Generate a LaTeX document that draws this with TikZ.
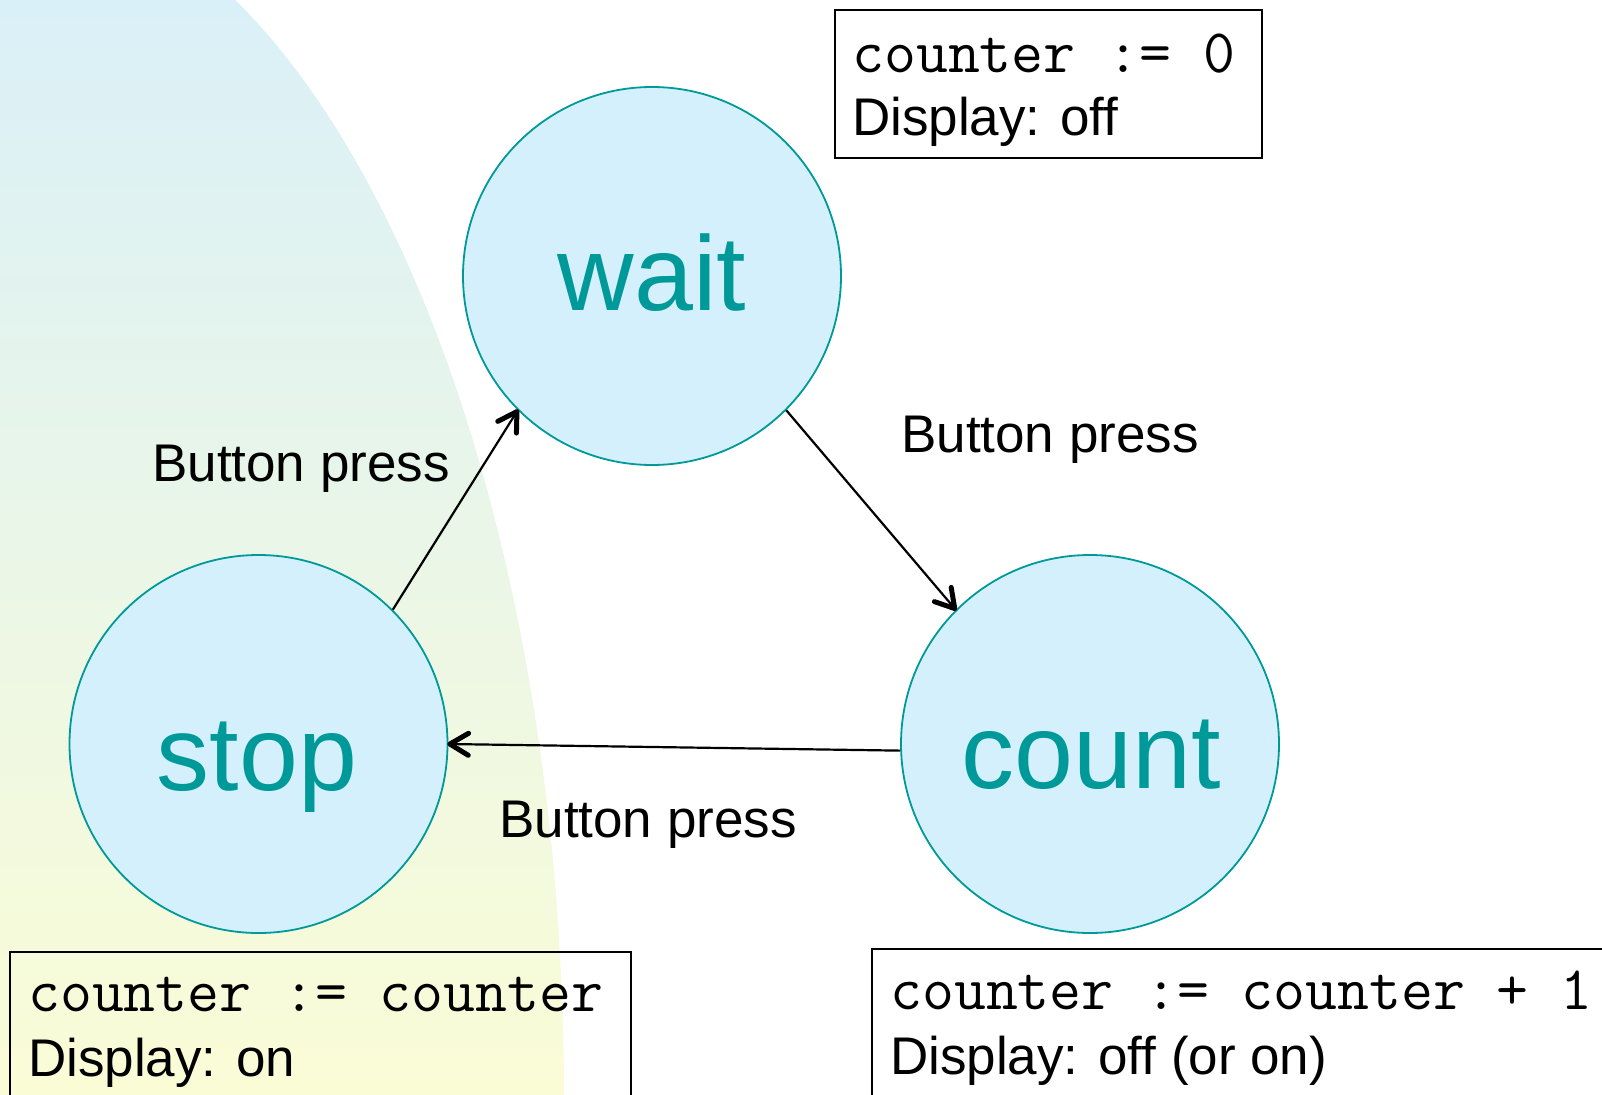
\documentclass[tikz,border=0pt]{standalone}
\usepackage{fontspec}
\setmainfont{Liberation Sans}
\usetikzlibrary{decorations.markings}
\definecolor{statefill}{HTML}{D5F0FD}
\definecolor{stateteal}{HTML}{009999}
\definecolor{bgtop}{HTML}{DAF0F8}
\definecolor{bgbottom}{HTML}{FAFCD6}
\begin{document}
\begin{tikzpicture}[x=1pt,y=-1pt,
  state/.style={circle, draw=stateteal, fill=statefill, line width=1.8pt,
    minimum size=378pt, inner sep=0pt},
  statename/.style={anchor=base, text=stateteal, inner sep=0pt,
    font=\fontsize{106}{106}\selectfont},
  % connector with a bold open barb at its end
  trans/.style={line width=2.2pt,
    postaction={decorate, decoration={markings, mark=at position 1 with
      {\draw[line width=5pt, line cap=round, line join=round]
        (-20pt,11pt) -- (-1.5pt,0pt) -- (-20pt,-11pt);}}}},
  evlabel/.style={anchor=base west, inner sep=0pt,
    font=\fontsize{53}{53}\selectfont},
  actbox/.style={draw, line width=1.8pt, anchor=north west, inner sep=0pt},
  code/.style={anchor=base west, inner sep=0pt,
    font=\ttfamily\fontsize{62}{62}\selectfont},
  plain/.style={anchor=base west, inner sep=0pt,
    font=\fontsize{53}{53}\selectfont}
]
\useasboundingbox (0,0) rectangle (1602,1094);
\clip (0,0) rectangle (1602,1094);

% shaded backdrop on the left
\begin{scope}
  \clip (0,1100) ellipse [x radius=564, y radius=1210];
  \shade[top color=bgtop, bottom color=bgbottom] (0,0) rectangle (600,1094);
\end{scope}

% states
\node[state] (wait)  at (652,276)   {};
\node[state] (stop)  at (258.5,744) {};
\node[state] (count) at (1090,744)  {};
\node[statename] (waitname)  at (652,310) {wait};
\node[statename] (stopname)  at (257,790) {stop};
\node[statename] (countname) at (1091,788) {count};

% transitions
\draw[trans] (stop.45) -- (wait.225);
\draw[trans] (wait.-45) -- (count.135);
\draw[trans] (count.182) -- (stop.0);

\node[evlabel] (evstop)  at (152,481) {Button press};
\node[evlabel] (evwait)  at (901,452) {Button press};
\node[evlabel] (evcount) at (499,837) {Button press};

% actions of each state
\node[actbox, minimum width=427pt, minimum height=148pt] (waitact)  at (834,9)   {};
\node[actbox, minimum width=621pt, minimum height=200pt] (stopact)  at (9,951)   {};
\node[actbox, minimum width=800pt, minimum height=200pt] (countact) at (871,948) {};

\node[code]  (waitcode)  at (852,73)   {counter := 0};
\node[plain] (waitdisp)  at (852,136)  {Display: off};
\node[code]  (stopcode)  at (28,1011)  {counter := counter};
\node[plain] (stopdisp)  at (28,1076)  {Display: on};
\node[code]  (countcode) at (890,1009) {counter := counter + 1};
\node[plain] (countdisp) at (890,1074) {Display: off (or on)};
\end{tikzpicture}
\end{document}
